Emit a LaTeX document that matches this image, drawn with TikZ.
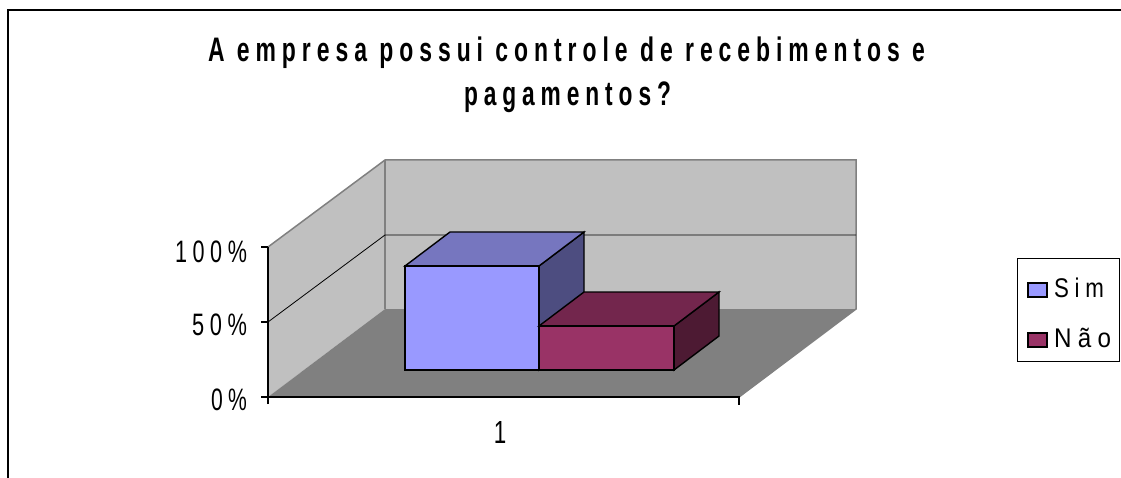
\documentclass[tikz,border=0pt]{standalone}
\usepackage{fontspec}
\usepackage{graphicx}
\setmainfont{Liberation Sans}
\newfontfamily\lsfont[LetterSpace=26]{Liberation Sans}
\definecolor{wallc}{HTML}{C0C0C0}
\definecolor{floorc}{HTML}{808080}
\definecolor{edgec}{HTML}{808080}
\definecolor{blueF}{HTML}{9999FF}
\definecolor{blueT}{HTML}{7676BF}
\definecolor{blueS}{HTML}{4D4D80}
\definecolor{marF}{HTML}{993366}
\definecolor{marT}{HTML}{73264D}
\definecolor{marS}{HTML}{4D1A33}
\tikzset{
  barface/.style={draw=black, line width=1.4pt, line join=miter},
  wallline/.style={draw=edgec, line width=1.5pt},
  axisline/.style={draw=black, line width=1.1pt},
  gridline/.style={draw=black, line width=0.8pt},
  lbl/.style={inner sep=0pt, outer sep=0pt},
}
\begin{document}
\begin{tikzpicture}[x=1pt,y=-1pt]
\useasboundingbox (0,0) rectangle (1121,478);
\fill[white] (0,0) rectangle (1121,478);
% outer frame
\draw[black, line width=1.3pt] (8,478) |- (1121,10);
% title
\node[lbl, anchor=base] (title1) at (566.5,62) {\resizebox{717pt}{\height}{\fontsize{34}{34}\lsfont\bfseries A empresa possui controle de recebimentos e}};
\node[lbl, anchor=base] (title2) at (567.5,106) {\resizebox{207pt}{\height}{\fontsize{34}{34}\lsfont\bfseries pagamentos?}};
% walls
\fill[wallc] (268,397) -- (268,247) -- (385,160) -- (385,309) -- cycle;
\fill[wallc] (385,160) rectangle (856,309);
\fill[floorc] (268,397) -- (385,309) -- (856,309) -- (739,397) -- cycle;
\draw[wallline] (268,247) -- (385,160) -- (856,160) -- (856,309) -- (739,397);
\draw[wallline] (385,160) -- (385,309);
% gridline 50%
\draw[gridline] (268,322) -- (385,235) -- (856,235);
% axes
\draw[axisline] (268,404) -- (268,247);
\draw[axisline] (261,247) -- (268,247);
\draw[axisline] (261,322) -- (268,322);
\draw[axisline] (261,397) -- (739,397) -- (739,405);
% blue bar (Sim)
\filldraw[barface, fill=blueS] (539,266) -- (584,232) -- (584,336) -- (539,370) -- cycle;
\filldraw[barface, fill=blueT] (405,266) -- (450,232) -- (584,232) -- (539,266) -- cycle;
\filldraw[barface, fill=blueF] (405,266) rectangle (539,370);
% maroon bar (Nao)
\filldraw[barface, fill=marS] (674,326) -- (719,292) -- (719,336) -- (674,370) -- cycle;
\filldraw[barface, fill=marT] (539,326) -- (584,292) -- (719,292) -- (674,326) -- cycle;
\filldraw[barface, fill=marF] (539,326) rectangle (674,370);
% axis labels
\node[lbl, anchor=base east] (y100) at (247,262) {\resizebox{72pt}{\height}{\fontsize{31}{31}\lsfont 100\%}};
\node[lbl, anchor=base east] (y50) at (247,335) {\resizebox{55pt}{\height}{\fontsize{31}{31}\lsfont 50\%}};
\node[lbl, anchor=base east] (y0) at (247,410) {\resizebox{36pt}{\height}{\fontsize{31}{31}\lsfont 0\%}};
\node[lbl, anchor=base] (x1) at (500,443) {\scalebox{0.7}[1]{\fontsize{32}{32}\selectfont 1}};
% legend
\draw[black, line width=0.9pt] (1017,258) rectangle (1119,361);
\filldraw[fill=blueF, draw=black, line width=1.3pt] (1028,283) rectangle (1047,297);
\filldraw[fill=marF, draw=black, line width=1.3pt] (1028,333) rectangle (1047,347);
\node[lbl, anchor=base west] (lsim) at (1054,298) {\resizebox{50pt}{\height}{\fontsize{27}{27}\lsfont Sim}};
\node[lbl, anchor=base west] (lnao) at (1054,347) {\resizebox{57pt}{\height}{\fontsize{27}{27}\lsfont Não}};
\end{tikzpicture}
\end{document}
